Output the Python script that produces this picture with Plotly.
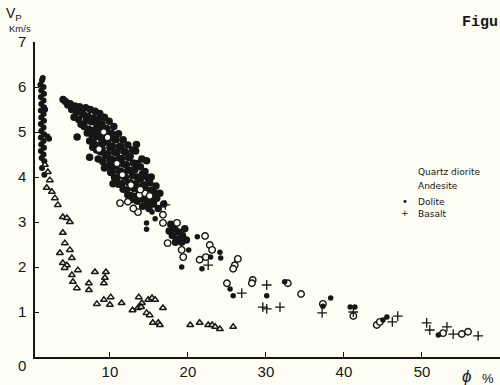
import plotly.graph_objects as go

# ---------------- data (phi %, Vp km/s) ----------------
# dense low-porosity column
col_phi = [1.3, 1.1, 1.5, 1.2, 1.55, 1.15, 1.5, 1.2, 1.55, 1.15, 1.5, 1.2, 1.55, 1.15, 1.5, 1.2,
           1.55, 1.15, 1.5, 1.2, 1.55, 1.15, 1.5, 1.25, 1.6, 2.2, 2.0, 1.7, 1.3, 1.6, 1.4]
col_vp = [6.15, 6.05, 6.0, 5.92, 5.85, 5.78, 5.7, 5.62, 5.55, 5.48, 5.4, 5.32, 5.25, 5.18, 5.1, 5.02,
          4.95, 4.88, 4.8, 4.72, 4.65, 4.58, 4.5, 4.42, 4.35, 4.85, 4.9, 5.5, 4.2, 4.05, 6.2]

# dense main band (mostly dolerite / quartz diorite)
band_phi = [4.0, 4.3, 4.6, 4.9, 5.1,
            5.5, 5.7, 5.4,
            6.1, 6.4, 6.0, 6.3,
            6.9, 6.6, 7.0, 6.7, 7.1,
            7.5, 7.2, 7.6, 7.3, 7.7, 7.4, 7.8,
            8.1, 7.9, 8.3, 8.0, 8.2, 7.9, 8.3,
            8.7, 8.5, 8.8, 8.4, 8.9, 8.6, 8.8, 8.5,
            9.3, 9.0, 9.4, 9.1, 9.3, 9.0, 9.4, 9.1, 9.3,
            9.9, 9.6, 10.0, 9.7, 10.0, 9.7, 10.0, 9.8, 10.1,
            10.5, 10.2, 10.6, 10.3, 10.6, 10.2, 10.5, 10.3, 10.6, 10.4,
            11.1, 10.8, 11.2, 10.9, 11.1, 10.8, 11.2, 10.9, 11.1,
            11.7, 11.4, 11.8, 11.5, 11.7, 11.4, 11.8, 11.5, 11.7,
            12.3, 12.0, 12.4, 12.1, 12.3, 12.0, 12.4, 12.1, 12.3,
            12.9, 12.6, 13.0, 12.7, 12.9, 12.6, 13.0, 12.7, 12.9,
            13.4, 13.3, 13.5, 13.2, 13.5, 13.3, 13.6, 13.2, 13.5,
            14.1, 13.9, 14.2, 13.9, 14.1, 13.8, 14.2,
            14.7, 14.5, 14.8, 14.5, 14.7, 14.4, 14.8,
            15.3, 15.1, 15.4, 15.1, 15.3,
            15.9, 15.7, 16.0,
            14.2, 15.0, 15.6, 16.2, 16.9, 16.4, 5.8, 7.4,
            17.8, 18.3, 18.8, 19.3, 18.0, 18.6, 19.2, 19.8, 17.6, 19.6, 18.4]
band_vp = [5.72, 5.68, 5.6, 5.63, 5.5,
           5.58, 5.44, 5.33,
           5.56, 5.43, 5.28, 5.17,
           5.54, 5.39, 5.26, 5.12, 4.98,
           5.5, 5.35, 5.23, 5.06, 4.94, 4.8, 4.66,
           5.46, 5.31, 5.17, 5.04, 4.9, 4.76, 4.6,
           5.41, 5.27, 5.13, 4.99, 4.85, 4.7, 4.56, 4.4,
           5.33, 5.18, 5.05, 4.9, 4.77, 4.63, 4.48, 4.34, 4.2,
           5.24, 5.08, 4.95, 4.8, 4.66, 4.52, 4.38, 4.24, 4.1,
           5.12, 4.97, 4.84, 4.69, 4.55, 4.4, 4.27, 4.12, 3.99, 3.85,
           4.96, 4.83, 4.67, 4.55, 4.41, 4.25, 4.13, 3.97, 3.84,
           4.83, 4.69, 4.57, 4.41, 4.29, 4.13, 4.01, 3.85, 3.73,
           4.71, 4.55, 4.43, 4.27, 4.15, 3.99, 3.87, 3.71, 3.6,
           4.6, 4.46, 4.31, 4.15, 4.03, 3.87, 3.75, 3.59, 3.5,
           4.72, 4.58, 4.3, 4.16, 4.0, 3.85, 3.73, 3.57, 3.46,
           4.4, 4.23, 4.07, 3.95, 3.79, 3.67, 3.51,
           4.36, 4.12, 3.99, 3.83, 3.71, 3.55, 3.44,
           4.0, 3.87, 3.71, 3.61, 3.49,
           3.8, 3.65, 3.53,
           3.35, 3.3, 3.4, 3.3, 3.4, 3.64, 4.89, 4.44,
           2.95, 2.85, 2.78, 2.7, 2.7, 2.62, 2.55, 2.6, 2.8, 2.85, 2.55]

# Quartz diorite (open circles)
qd_phi = [16.8, 13.6, 16.8, 17.4, 18.6, 19.2, 19.4, 22.2, 22.8, 23.1, 21.5, 22.3, 26.4, 26.0,
          25.8, 25.0, 28.3, 28.2, 32.8, 34.5, 37.3, 41.2, 44.2, 44.6, 52.7, 55.1, 55.9,
          13.8, 14.5, 15.1, 11.3, 12.3, 13.0,
          8.6, 9.7, 10.9, 11.6, 12.7, 9.2, 13.9]
qd_vp = [3.16, 3.22, 2.98, 2.53, 2.98, 2.38, 2.22, 2.69, 2.49, 2.38, 2.16, 2.22, 2.18, 2.04,
         1.96, 1.64, 1.71, 1.64, 1.64, 1.4, 1.18, 0.91, 0.71, 0.78, 0.53, 0.51, 0.56,
         3.6, 3.64, 3.58, 3.42, 3.45, 3.3,
         4.62, 4.88, 4.3, 4.05, 3.82, 5.0, 3.72]

# Andesite (open triangles)
an_phi = [1.67, 2.05, 2.3, 1.9, 2.56, 2.95, 3.33, 3.97, 4.49, 4.87, 3.97, 4.23, 4.87, 3.59,
          5.13, 3.97, 4.49, 4.2, 5.9, 5.13, 5.26, 5.77, 8.08, 9.49, 9.36, 9.23, 7.31, 7.31,
          8.33, 9.23, 10.1, 10.0, 11.5, 13.7, 12.9, 13.6, 14.1, 14.0, 14.9, 15.4, 15.8,
          14.7, 15.1, 16.8, 15.5, 16.2, 16.4, 20.3, 21.5, 22.6, 23.1, 23.5, 24.1, 25.8]
an_vp = [4.27, 4.11, 3.93, 3.76, 3.67, 3.53, 3.38, 3.11, 3.09, 3.0, 2.76, 2.53, 2.38, 2.31,
         2.2, 2.09, 2.04, 1.98, 1.93, 1.82, 1.67, 1.53, 1.89, 1.89, 1.76, 1.64, 1.64, 1.49,
         1.18, 1.27, 1.33, 1.16, 1.2, 1.33, 1.04, 1.09, 1.2, 1.11, 1.27, 1.31, 1.27,
         0.98, 0.93, 1.09, 0.76, 0.76, 0.71, 0.71, 0.76, 0.71, 0.71, 0.67, 0.62, 0.67]

# Dolerite (filled dots)
do_phi = [16.4, 15.4, 14.7, 14.7, 15.8, 21.2, 24.1, 20.1, 22.9, 24.2, 19.2, 21.8, 25.4, 25.8,
          30.1, 32.4, 38.3, 37.3, 40.8, 41.4, 45.0, 45.5, 52.1]
do_vp = [3.64, 3.22, 2.98, 2.84, 3.07, 2.67, 2.33, 2.38, 2.22, 2.2, 2.0, 1.96, 1.51, 1.36,
         1.36, 1.67, 1.31, 1.13, 1.11, 1.11, 0.82, 0.89, 0.49]

# Basalt (crosses)
ba_phi = [17.1, 22.6, 26.9, 30.1, 29.6, 30.1, 31.8, 37.2, 41.2, 46.2, 46.9, 50.6, 51.0, 53.2,
          54.0, 57.2]
ba_vp = [3.38, 2.04, 1.42, 1.6, 1.11, 1.07, 1.11, 0.98, 1.0, 0.78, 0.91, 0.76, 0.6, 0.67,
         0.51, 0.47]

y_ticks = [1, 2, 3, 4, 5, 6, 7]
x_ticks = [10, 20, 30, 40, 50]
legend_names = ["Quartz diorite", "Andesite", "Dolite", "Basalt"]

INK = "#161616"
PAPER = "#fdfdf3"

fig = go.Figure()
fig.add_trace(go.Scatter(x=col_phi, y=col_vp, mode="markers",
                         marker=dict(symbol="circle", size=6, color=INK)))
fig.add_trace(go.Scatter(x=band_phi, y=band_vp, mode="markers",
                         marker=dict(symbol="circle", size=7.5, color=INK)))
fig.add_trace(go.Scatter(x=qd_phi, y=qd_vp, mode="markers",
                         marker=dict(symbol="circle", size=6.5, color=PAPER,
                                     line=dict(width=1.4, color=INK))))
fig.add_trace(go.Scatter(x=an_phi, y=an_vp, mode="markers",
                         marker=dict(symbol="triangle-up", size=6, color=PAPER,
                                     line=dict(width=1.5, color=INK))))
fig.add_trace(go.Scatter(x=do_phi, y=do_vp, mode="markers",
                         marker=dict(symbol="circle", size=5.5, color=INK)))
fig.add_trace(go.Scatter(x=ba_phi, y=ba_vp, mode="markers",
                         marker=dict(symbol="cross-thin-open", size=7, color=INK, line=dict(width=1.3))))

L, R, T, B = 35, 0, 42, 28
W, H = 500 - L - R, 385 - T - B

fig.update_layout(
    width=500, height=385,
    margin=dict(l=L, r=R, t=T, b=B),
    paper_bgcolor=PAPER, plot_bgcolor=PAPER,
    showlegend=False,
    xaxis=dict(range=[0.4, 60.0], tickvals=x_ticks, ticks="inside", ticklen=5, tickwidth=1.3,
               tickcolor=INK, showline=True, linecolor=INK, linewidth=1.5, showgrid=False,
               zeroline=False, tickfont=dict(family="Liberation Sans", size=15, color=INK)),
    yaxis=dict(range=[0, 7], tickvals=y_ticks, ticks="inside", ticklen=4, tickwidth=1.3,
               tickcolor=INK, showline=True, linecolor=INK, linewidth=1.5, showgrid=False,
               zeroline=False, ticklabelstandoff=4,
               tickfont=dict(family="Liberation Sans", size=15, color=INK)),
    font=dict(family="Liberation Sans", color=INK),
)


def px_ann(text, x, y, size, family="Liberation Sans", xanchor="center", bold=False):
    """Annotation placed by figure-pixel position (converted to plot-domain fractions)."""
    return dict(text=("<b>%s</b>" % text) if bold else text,
                x=(x - L) / W, y=1 - (y - T) / H,
                xref="paper", yref="paper", xanchor=xanchor, yanchor="middle",
                showarrow=False, font=dict(family=family, size=size, color=INK))


leg_y = [172, 186, 202, 214]
annotations = []
for name, yy in zip(legend_names, leg_y):
    annotations.append(px_ann(name, 416, yy, 9, "DejaVu Sans", "left"))
annotations.append(px_ann("•", 405, 201, 10, "DejaVu Sans"))
annotations.append(px_ann("+", 405, 213, 9, "DejaVu Sans"))
annotations.append(px_ann("Figu", 460, 22, 15, "Liberation Mono", "left", bold=True))
annotations.append(px_ann("V<sub>P</sub>", 14, 14, 14))
annotations.append(px_ann("Km/s", 20, 29, 9.5))
annotations.append(px_ann("0", 22, 366, 15))
annotations.append(px_ann("<i>ϕ</i>", 466, 376, 17))
annotations.append(px_ann("%", 488, 378, 13))
fig.update_layout(annotations=annotations)

fig.write_html("out.html")
